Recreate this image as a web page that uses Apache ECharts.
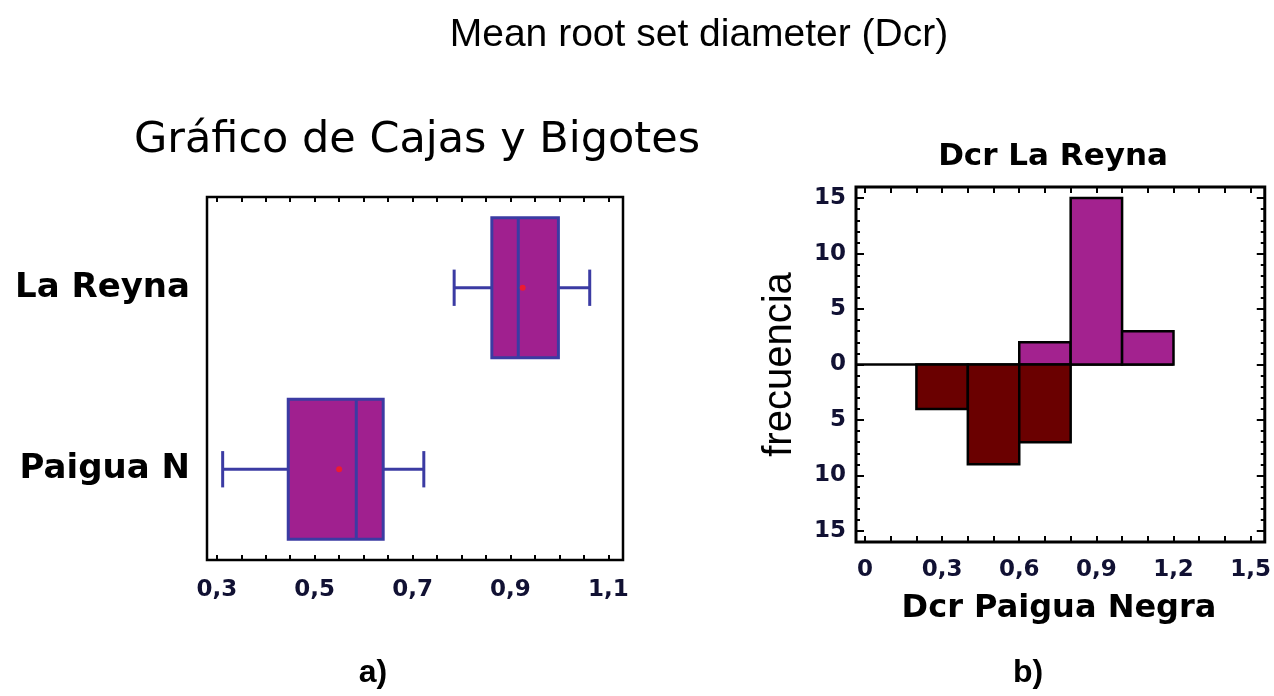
<!DOCTYPE html>
<html>
<head>
<meta charset="utf-8">
<title>Mean root set diameter (Dcr)</title>
<script src="https://cdn.jsdelivr.net/npm/echarts@6/dist/echarts.min.js"></script>
<style>
  html, body { margin: 0; padding: 0; background: #fff; }
  #chart { width: 1274px; height: 696px; }
</style>
</head>
<body>
<div id="chart"></div>
<script>
// ==========================
// datos - grafico de cajas
// ==========================
var boxCategories = ['Paigua N', 'La Reyna'];
// [min, Q1, mediana, Q3, max]
var boxPaigua = [0.312, 0.446, 0.585, 0.640, 0.723];
var boxReyna = [0.785, 0.862, 0.916, 0.998, 1.062];
var boxMeans = [0.550, 0.925];
var boxLabelTicks = [0.3, 0.5, 0.7, 0.9, 1.1];

// ==========================
// datos - histograma doble
// ==========================
var binEdges = [0.2, 0.4, 0.6, 0.8, 1.0, 1.2];
var freqReyna = [0, 0, 2, 15, 3];
var freqPaigua = [4, 9, 7, 0, 0];
var histXLabels = [0, 0.3, 0.6, 0.9, 1.2, 1.5];
var histYLabels = [-15, -10, -5, 0, 5, 10, 15];

var boxMin = 0.28, boxMax = 1.13;
var histXMin = -0.035, histXMax = 1.555;
var histYMin = -16, histYMax = 16;

var boxFill = '#a0208f', boxLine = '#3b3ba3';
var reynaFill = '#a3228f', paiguaFill = '#6a0000';
var labelColor = '#111133';

function steps(from, to, step) {
    var out = [];
    for (var v = from; v <= to + 1e-9; v += step) out.push(Math.round(v * 1000) / 1000);
    return out;
}
function comma(v) {
    return v === 0 ? '0' : v.toFixed(1).replace('.', ',');
}

// eje sin linea, solo marcas hacia dentro (el marco lo pinta el grid)
function edgeAxis(gridIndex, position, min, max, ticks, len, labels) {
    return {
        type: 'value', gridIndex: gridIndex, position: position, min: min, max: max,
        axisLine: { show: false, onZero: false },
        splitLine: { show: false },
        axisTick: { show: true, inside: true, length: len, customValues: ticks,
            lineStyle: { color: '#000', width: 2 } },
        axisLabel: labels || { show: false }
    };
}

var tickFont = { fontFamily: 'DejaVu Sans', fontWeight: 'bold', fontSize: 23, color: labelColor };

var xAxes = [
    edgeAxis(0, 'bottom', boxMin, boxMax, steps(0.3, 1.1, 0.05), 5,
        Object.assign({ customValues: boxLabelTicks, margin: 19, formatter: comma }, tickFont)),
    edgeAxis(0, 'top', boxMin, boxMax, steps(0.3, 1.1, 0.05), 5),
    edgeAxis(1, 'bottom', histXMin, histXMax, steps(0, 1.5, 0.1), 6,
        Object.assign({ customValues: histXLabels, margin: 17, formatter: comma }, tickFont)),
    edgeAxis(1, 'top', histXMin, histXMax, steps(0, 1.5, 0.1), 6)
];

var histLeft = edgeAxis(1, 'left', histYMin, histYMax, steps(-15, 15, 1), 4,
    Object.assign({ customValues: histYLabels, margin: 10,
        formatter: function (v) { return String(Math.abs(v)); } }, tickFont));
histLeft.name = 'frecuencia';
histLeft.nameLocation = 'middle';
histLeft.nameRotate = 90;
histLeft.nameGap = 56;
histLeft.nameTextStyle = { fontFamily: 'Liberation Sans', fontSize: 40, color: '#000' };

var yAxes = [
    {
        type: 'category', gridIndex: 0, data: boxCategories,
        axisLine: { show: false }, axisTick: { show: false }, splitLine: { show: false },
        axisLabel: { margin: 17, fontFamily: 'DejaVu Sans', fontWeight: 'bold', fontSize: 34, color: '#000' }
    },
    histLeft,
    edgeAxis(1, 'left', histYMin, histYMax, histYLabels, 8),
    edgeAxis(1, 'right', histYMin, histYMax, steps(-15, 15, 1), 4),
    edgeAxis(1, 'right', histYMin, histYMax, histYLabels, 8)
];

// filas para las series
var boxRows = [[0].concat(boxPaigua), [1].concat(boxReyna)];
var meanRows = boxMeans.map(function (m, i) { return [m, i]; });
var histRows = [];
for (var i = 0; i < freqReyna.length; i++) {
    if (freqReyna[i]) histRows.push([binEdges[i], binEdges[i + 1], freqReyna[i]]);
    if (freqPaigua[i]) histRows.push([binEdges[i], binEdges[i + 1], -freqPaigua[i]]);
}

var chart = echarts.init(document.getElementById('chart'));
chart.setOption({
    animation: false,
    backgroundColor: '#fff',
    title: [
        { text: 'Mean root set diameter (Dcr)', left: 694, top: 11, textAlign: 'center',
          textStyle: { fontFamily: 'Liberation Sans', fontSize: 39, fontWeight: 'normal', color: '#000' } },
        { text: 'Gráfico de Cajas y Bigotes', left: 412, top: 114, textAlign: 'center',
          textStyle: { fontFamily: 'DejaVu Sans', fontSize: 43, fontWeight: 'normal', color: '#000' } },
        { text: 'Dcr La Reyna', left: 1048, top: 136, textAlign: 'center',
          textStyle: { fontFamily: 'DejaVu Sans', fontSize: 31, fontWeight: 'bold', color: '#000' } },
        { text: 'Dcr Paigua Negra', left: 1054, top: 588, textAlign: 'center',
          textStyle: { fontFamily: 'DejaVu Sans', fontSize: 32, fontWeight: 'bold', color: '#000' } },
        { text: 'a)', left: 368, top: 652, textAlign: 'center',
          textStyle: { fontFamily: 'Liberation Sans', fontSize: 32, fontWeight: 'bold', color: '#000' } },
        { text: 'b)', left: 1023, top: 652, textAlign: 'center',
          textStyle: { fontFamily: 'Liberation Sans', fontSize: 32, fontWeight: 'bold', color: '#000' } }
    ],
    grid: [
        { left: 207, top: 197, width: 416, height: 363, show: true,
          borderColor: '#000', borderWidth: 2.5, backgroundColor: '#fff' },
        { left: 856, top: 187, width: 409, height: 355, show: true,
          borderColor: '#000', borderWidth: 3, backgroundColor: '#fff' }
    ],
    xAxis: xAxes,
    yAxis: yAxes,
    series: [
        {
            type: 'custom', xAxisIndex: 0, yAxisIndex: 0, data: boxRows,
            encode: { x: [1, 2, 3, 4, 5], y: 0 },
            renderItem: function (params, api) {
                var cat = api.value(0);
                var band = api.size([0, 1])[1];
                var half = band * 0.385, cap = band * 0.1;
                var lo = api.coord([api.value(1), cat]);
                var q1 = api.coord([api.value(2), cat]);
                var md = api.coord([api.value(3), cat]);
                var q3 = api.coord([api.value(4), cat]);
                var hi = api.coord([api.value(5), cat]);
                var y = md[1];
                var st = { stroke: boxLine, lineWidth: 3, fill: null };
                return {
                    type: 'group',
                    children: [
                        { type: 'line', shape: { x1: lo[0], y1: y, x2: q1[0], y2: y }, style: st },
                        { type: 'line', shape: { x1: q3[0], y1: y, x2: hi[0], y2: y }, style: st },
                        { type: 'line', shape: { x1: lo[0], y1: y - cap, x2: lo[0], y2: y + cap }, style: st },
                        { type: 'line', shape: { x1: hi[0], y1: y - cap, x2: hi[0], y2: y + cap }, style: st },
                        { type: 'rect', shape: { x: q1[0], y: y - half, width: q3[0] - q1[0], height: half * 2 },
                          style: { fill: boxFill, stroke: boxLine, lineWidth: 3 } },
                        { type: 'line', shape: { x1: md[0], y1: y - half, x2: md[0], y2: y + half }, style: st }
                    ]
                };
            }
        },
        {
            type: 'scatter', xAxisIndex: 0, yAxisIndex: 0, data: meanRows,
            symbol: 'circle', symbolSize: 6, itemStyle: { color: '#ff1a1a' }, z: 5
        },
        {
            type: 'line', xAxisIndex: 2, yAxisIndex: 1,
            data: [[histXMin, 0], [binEdges[binEdges.length - 1], 0]],
            symbol: 'none', lineStyle: { color: '#000', width: 2.5 }, z: 1
        },
        {
            type: 'custom', xAxisIndex: 2, yAxisIndex: 1, data: histRows,
            encode: { x: [0, 1], y: 2 }, z: 3,
            renderItem: function (params, api) {
                var f = api.value(2);
                var p0 = api.coord([api.value(0), f]);
                var p1 = api.coord([api.value(1), 0]);
                return {
                    type: 'rect',
                    shape: { x: p0[0], y: Math.min(p0[1], p1[1]), width: p1[0] - p0[0], height: Math.abs(p1[1] - p0[1]) },
                    style: { fill: f > 0 ? reynaFill : paiguaFill, stroke: '#000', lineWidth: 2.5 }
                };
            }
        }
    ]
});
</script>
</body>
</html>
